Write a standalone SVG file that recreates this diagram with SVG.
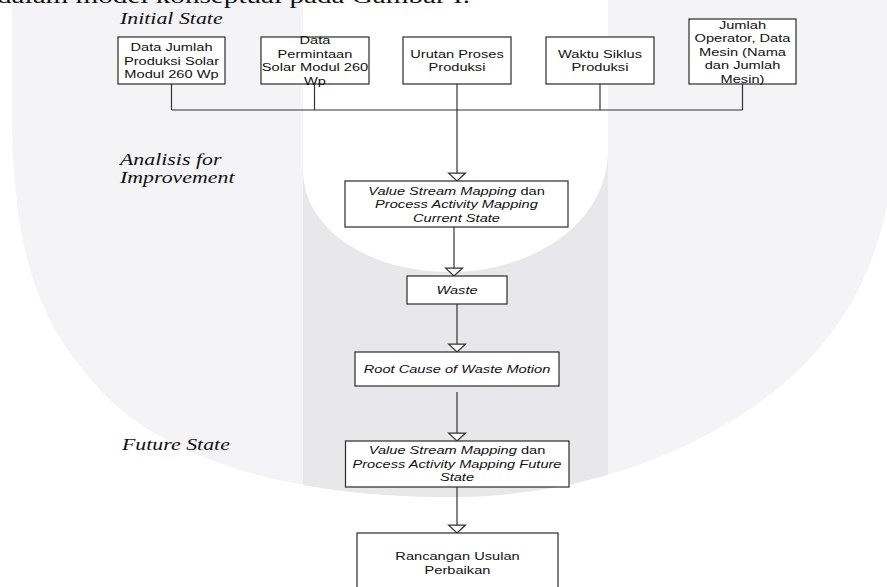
<svg xmlns="http://www.w3.org/2000/svg" width="887" height="587" viewBox="0 0 887 587">
<defs>
<style>
.box{fill:#fff;stroke:#2a2a2a;stroke-width:1.2}
.t{font-family:"Liberation Sans",Arial,sans-serif;font-size:11.7px;fill:#111;text-anchor:middle}
.i{font-style:italic}
.n{font-style:normal}
.lbl{font-family:"Liberation Serif","Times New Roman",serif;font-style:italic;font-size:17.5px;fill:#111}
.c{fill:none;stroke:#333;stroke-width:1.2}
</style>
<marker id="tri" markerUnits="userSpaceOnUse" markerWidth="20" markerHeight="20" refX="7" refY="0" viewBox="-1 -9 10 18" orient="auto" overflow="visible">
<path d="M0,-7.5 L7,0 L0,7.5 Z" fill="#fff" stroke="#333" stroke-width="1.1"/>
</marker>
<clipPath id="outer"><path d="M12,0 L12,120 C14,260 40,330 110,400 C180,465 300,497 450,497 C600,497 720,440 790,378 C860,315 895,230 895,120 L895,0 Z"/></clipPath>
</defs>
<rect width="887" height="587" fill="#fff"/>
<g id="watermark">
<path d="M12,0 L12,120 C14,260 40,330 110,400 C180,465 300,497 450,497 C600,497 720,440 790,378 C860,315 895,230 895,120 L895,0 Z" fill="#f4f4f6"/>
<rect x="303" y="0" width="305" height="587" fill="#e8e8eb" clip-path="url(#outer)"/>
<path d="M303,0 L303,170 C303,230 370,272 450,272 C530,272 608,225 608,150 L608,0 Z" fill="#fff"/>
</g>
<text x="-3" y="3" font-family="Liberation Serif,serif" font-size="22" fill="#111" textLength="473" lengthAdjust="spacingAndGlyphs">dalam model konseptual pada Gambar I.</text>
<g id="connectors">
<path class="c" d="M171.5,84 V110 M314.5,84 V110 M600,84 V110 M742.5,84 V110 M171.5,110 H742.5"/>
<path class="c" d="M457,84 V181" marker-end="url(#tri)"/>
<path class="c" d="M454,227 V276" marker-end="url(#tri)"/>
<path class="c" d="M457,304 V352" marker-end="url(#tri)"/>
<path class="c" d="M457,392 V441" marker-end="url(#tri)"/>
<path class="c" d="M457,487 V533" marker-end="url(#tri)"/>
</g>
<g id="n1"><rect class="box" x="118" y="37" width="107" height="47"/></g>
<g id="n2"><rect class="box" x="261" y="37" width="108" height="47"/></g>
<g id="n3"><rect class="box" x="403" y="37" width="108" height="47"/></g>
<g id="n4"><rect class="box" x="546" y="37" width="108" height="47"/></g>
<g id="n5"><rect class="box" x="689" y="19" width="107" height="65"/></g>
<g id="n6"><rect class="box" x="345" y="181" width="223" height="46"/></g>
<g id="n7"><rect class="box" x="407" y="276" width="100" height="28"/></g>
<g id="n8"><rect class="box" x="355" y="352" width="204" height="34"/></g>
<g id="n9"><rect class="box" x="345.5" y="441" width="223.5" height="46"/></g>
<g id="n10"><rect class="box" x="357" y="533" width="201" height="70"/></g>
<g id="texts" transform="scale(1.25,1)">
<text class="t" x="137.2" y="51.2">Data Jumlah</text>
<text class="t" x="137.2" y="64.7">Produksi Solar</text>
<text class="t" x="137.2" y="78.2">Modul 260 Wp</text>
<text class="t" x="252" y="44.5">Data</text>
<text class="t" x="252" y="58">Permintaan</text>
<text class="t" x="252" y="71.5">Solar Modul 260</text>
<text class="t" x="252" y="85">Wp</text>
<text class="t" x="365.6" y="58">Urutan Proses</text>
<text class="t" x="365.6" y="71.5">Produksi</text>
<text class="t" x="480" y="58">Waktu Siklus</text>
<text class="t" x="480" y="71.5">Produksi</text>
<text class="t" x="594" y="28.7">Jumlah</text>
<text class="t" x="594" y="42.2">Operator, Data</text>
<text class="t" x="594" y="55.7">Mesin (Nama</text>
<text class="t" x="594" y="69.2">dan Jumlah</text>
<text class="t" x="594" y="82.7">Mesin)</text>
<text class="t" x="365.2" y="194.7"><tspan class="i">Value Stream Mapping</tspan><tspan class="n"> dan</tspan></text>
<text class="t i" x="365.2" y="208.2">Process Activity Mapping</text>
<text class="t i" x="365.2" y="221.7">Current State</text>
<text class="t i" x="365.6" y="294">Waste</text>
<text class="t i" x="365.6" y="373">Root Cause of Waste Motion</text>
<text class="t" x="365.6" y="454.5"><tspan class="i">Value Stream Mapping</tspan><tspan class="n"> dan</tspan></text>
<text class="t i" x="365.6" y="468">Process Activity Mapping Future</text>
<text class="t i" x="365.6" y="481.5">State</text>
<text class="t" x="366" y="559.7">Rancangan Usulan</text>
<text class="t" x="366" y="574.2">Perbaikan</text>
<text class="lbl" x="96" y="24.5">Initial State</text>
<text class="lbl" x="96" y="165.5">Analisis for</text>
<text class="lbl" x="96" y="183.5">Improvement</text>
<text class="lbl" x="97.6" y="450">Future State</text>
</g>
</svg>
